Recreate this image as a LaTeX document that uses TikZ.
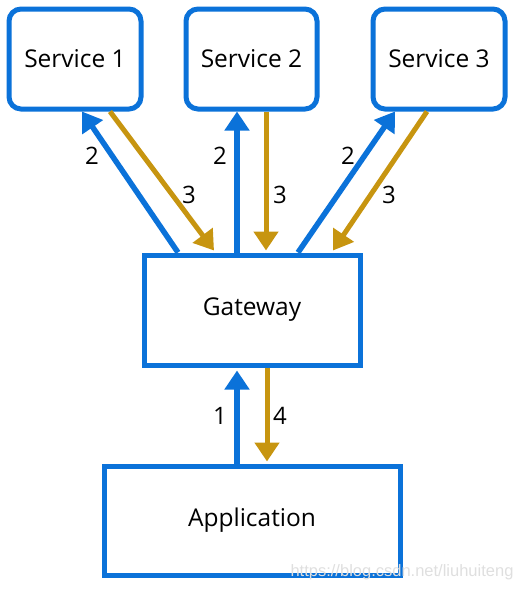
\documentclass[tikz,border=0pt]{standalone}
\usepackage{fontspec}
\setmainfont{Open Sans}
\newfontfamily\wmfont{Liberation Sans}
\usetikzlibrary{arrows.meta,calc}
\definecolor{azblue}{HTML}{0B72D9}
\definecolor{azgold}{HTML}{C79510}
\begin{document}
\begin{tikzpicture}[x=1pt,y=-1pt,
  svc/.style={draw=azblue,line width=5pt,rounded corners=12pt,minimum width=132pt,minimum height=100pt,inner sep=0pt,font=\fontsize{24.5}{28}\selectfont},
  box/.style={draw=azblue,line width=5pt,inner sep=0pt,font=\fontsize{24.5}{28}\selectfont},
  req/.style={draw=azblue,line width=5.5pt,-{Triangle[length=19pt,width=24pt]}},
  rsp/.style={draw=azgold,line width=5pt,-{Triangle[length=19pt,width=24pt]}},
  num/.style={font=\fontsize{24}{28}\selectfont,inner sep=0pt}]
\useasboundingbox (0,0) rectangle (518,590);
\node[svc] (s1) at (75,59) {Service 1};
\node[svc,minimum width=131pt] (s2) at (251.5,59) {Service 2};
\node[svc] (s3) at (439,59) {Service 3};
\node[box,minimum width=216pt,minimum height=110pt] (gw) at (252,310) {Gateway};
\node[box,minimum width=296pt,minimum height=109pt] (app) at (252,520.5) {Application};
% service 1
\draw[req] ($(gw.north west)+(36.5,0)$) -- ($(s1.south)+(7,0)$);
\draw[rsp] ($(s1.south)+(35,0)$) -- ($(gw.north west)+(72.5,-2)$);
% service 2
\draw[req] ($(gw.north west)+(95.5,0)$) -- ($(s2.south)+(-14.5,0)$);
\draw[rsp] ($(s2.south)+(14.5,0)$) -- ($(gw.north west)+(124.5,-2)$);
% service 3
\draw[req] ($(gw.north west)+(156.5,0)$) -- ($(s3.south)+(-44,0)$);
\draw[rsp] ($(s3.south)+(-12,0)$) -- ($(gw.north west)+(191.5,-2)$);
% application
\draw[req] ($(app.north west)+(135.5,0)$) -- ($(gw.south west)+(95.5,3)$);
\draw[rsp] ($(gw.south west)+(125.5,0)$) -- ($(app.north west)+(165.5,-2)$);
% labels
\node[num] (l1) at (92,156) {2};
\node[num] (l2) at (189,195) {3};
\node[num] (l3) at (220,156) {2};
\node[num] (l4) at (280,195) {3};
\node[num] (l5) at (348,156) {2};
\node[num] (l6) at (389,195) {3};
\node[num] (l7) at (220,416) {1};
\node[num] (l8) at (280,416) {4};
\node[font=\fontsize{16.5}{19}\wmfont,text=gray!25,inner sep=0pt] (wm) at (402,572) {https://blog.csdn.net/liuhuiteng};
\end{tikzpicture}
\end{document}
